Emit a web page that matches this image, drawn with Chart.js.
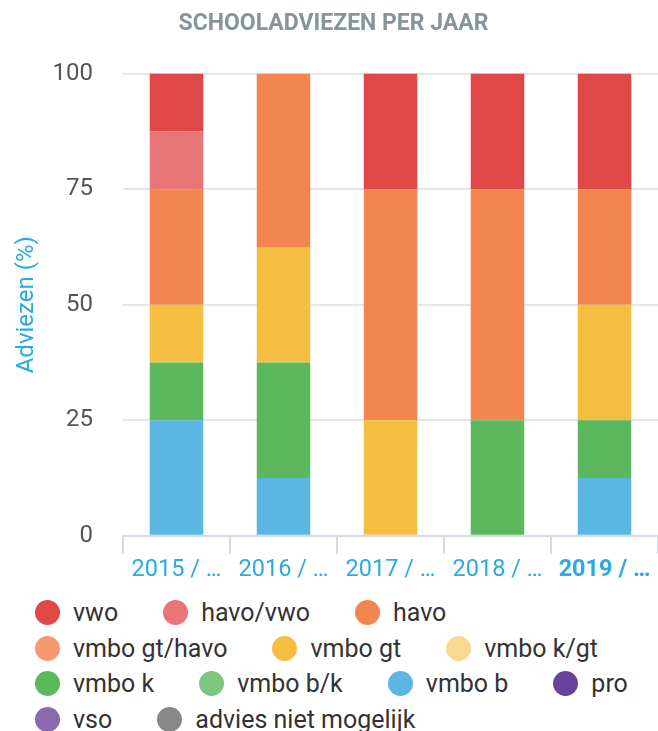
<!DOCTYPE html>
<html>
<head>
<meta charset="utf-8">
<script src="https://cdn.jsdelivr.net/npm/chart.js@4"></script>
<style>
  html, body { margin: 0; padding: 0; background: #fff; }
  #wrap { position: relative; width: 658px; height: 590px; }
  #legend {
    display: flex; flex-wrap: wrap; column-gap: 45px; width: 658px; padding: 5px 0 0 35px; box-sizing: border-box;
    font-family: Roboto, sans-serif; font-size: 25px; color: #333; line-height: 35.5px;
  }
  #legend .item { display: flex; align-items: center; white-space: nowrap; }
  #legend .dot { width: 25px; height: 25px; border-radius: 50%; margin-right: 13px; }
</style>
</head>
<body>
<div id="wrap"><canvas id="chart"></canvas></div>
<div id="legend"></div>
<script>
const years = ['2015 / 2016', '2016 / 2017', '2017 / 2018', '2018 / 2019', '2019 / 2020'];

// legend order (top of stack first)
const adviezen = ['vwo', 'havo/vwo', 'havo', 'vmbo gt/havo', 'vmbo gt', 'vmbo k/gt',
  'vmbo k', 'vmbo b/k', 'vmbo b', 'pro', 'vso', 'advies niet mogelijk'];
const kleuren = ['#e04848', '#e87676', '#f28550', '#f59a6e', '#f4be40', '#f9d98f',
  '#5cb85c', '#7dc87f', '#5bb6e2', '#6a4199', '#8a69ae', '#888888'];

const vwo        = [12.5, 0, 25, 25, 25];
const havoVwo    = [12.5, 0, 0, 0, 0];
const havo       = [25, 37.5, 50, 50, 25];
const vmboGtHavo = [0, 0, 0, 0, 0];
const vmboGt     = [12.5, 25, 25, 0, 25];
const vmboKGt    = [0, 0, 0, 0, 0];
const vmboK      = [12.5, 25, 0, 25, 12.5];
const vmboBK     = [0, 0, 0, 0, 0];
const vmboB      = [25, 12.5, 0, 0, 12.5];
const pro        = [0, 0, 0, 0, 0];
const vso        = [0, 0, 0, 0, 0];
const nietMogelijk = [0, 0, 0, 0, 0];

const waarden = [vwo, havoVwo, havo, vmboGtHavo, vmboGt, vmboKGt, vmboK, vmboBK, vmboB, pro, vso, nietMogelijk];

// stack from the bottom up, so reverse the legend order
const datasets = adviezen.map((naam, i) => ({
  label: naam,
  data: waarden[i],
  backgroundColor: kleuren[i],
  borderWidth: 0,
  barPercentage: 0.5,
  categoryPercentage: 1
})).reverse();

const blauw = '#29abe2';

const chart = new Chart(document.getElementById('chart'), {
  type: 'bar',
  data: { labels: years, datasets: datasets },
  options: {
    responsive: true,
    maintainAspectRatio: false,
    animation: false,
    layout: { padding: { left: 9, right: 0, top: 0, bottom: 4 } },
    plugins: {
      legend: { display: false },
      tooltip: { enabled: false },
      title: {
        display: true,
        text: 'SCHOOLADVIEZEN PER JAAR',
        color: '#86949b',
        font: { family: 'Roboto', size: 23, weight: 'bold' },
        padding: { top: 10, bottom: 36 }
      }
    },
    scales: {
      x: {
        stacked: true,
        grid: { drawOnChartArea: false, drawTicks: true, tickLength: 18, color: '#d3dbe8', lineWidth: 2 },
        border: { color: '#d3dbe8', width: 2 },
        ticks: {
          color: blauw,
          padding: 2,
          maxRotation: 0,
          autoSkip: false,
          font: c => ({ family: 'Roboto', size: 23.5, weight: c.index === 4 ? 'bold' : 'normal' }),
          callback: function (value) {
            return this.getLabelForValue(value).split(' / ')[0] + ' / …';
          }
        }
      },
      y: {
        stacked: true,
        min: 0,
        max: 100,
        afterFit: axis => { axis.width = 114; },
        ticks: { stepSize: 25, color: '#555', padding: 30, font: { family: 'Roboto', size: 24 } },
        grid: { color: '#e6e6e6', lineWidth: 2, drawTicks: false },
        border: { display: false },
        title: {
          display: true,
          text: 'Adviezen (%)',
          color: blauw,
          font: { family: 'Roboto', size: 24 },
          padding: { top: 4, bottom: 12 }
        }
      }
    }
  }
});

// HTML legend built from the chart's own datasets
const legendEl = document.getElementById('legend');
chart.data.datasets.slice().reverse().forEach(ds => {
  const item = document.createElement('div');
  item.className = 'item';
  item.innerHTML = `<span class="dot" style="background:${ds.backgroundColor}"></span><span>${ds.label}</span>`;
  legendEl.appendChild(item);
});
</script>
</body>
</html>
